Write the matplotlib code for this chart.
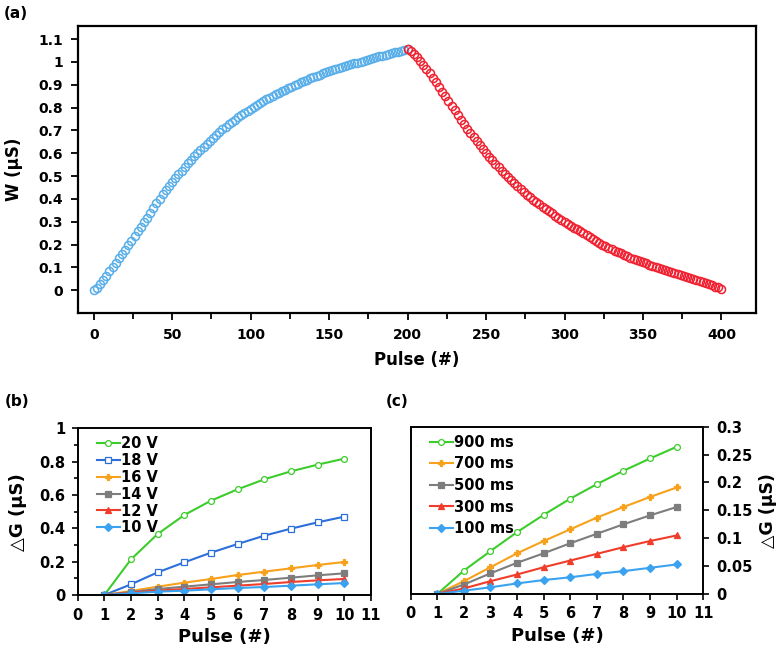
import numpy as np
import matplotlib
matplotlib.use("Agg")
import matplotlib.pyplot as plt
from matplotlib.ticker import MultipleLocator, FuncFormatter

plt.rcParams['font.family'] = ['DejaVu Sans']
plt.rcParams['font.weight'] = 'bold'

# ---------------- data (a) ----------------
pot_pulse = list(range(0, 201, 2))
pot_w = [0.000, 0.010, 0.026, 0.044, 0.063, 0.082, 0.101, 0.120, 0.139, 0.158,
         0.177, 0.197, 0.217, 0.237, 0.257, 0.277, 0.297, 0.318, 0.339, 0.360,
         0.381, 0.401, 0.420, 0.438, 0.456, 0.474, 0.491, 0.508, 0.524, 0.540,
         0.556, 0.571, 0.586, 0.601, 0.615, 0.629, 0.642, 0.655, 0.668, 0.680,
         0.692, 0.704, 0.715, 0.726, 0.737, 0.747, 0.757, 0.767, 0.777, 0.786,
         0.795, 0.804, 0.812, 0.820, 0.828, 0.836, 0.843, 0.851, 0.858, 0.865,
         0.872, 0.878, 0.885, 0.891, 0.897, 0.904, 0.910, 0.916, 0.922, 0.928,
         0.933, 0.939, 0.944, 0.949, 0.954, 0.959, 0.963, 0.968, 0.972, 0.977,
         0.981, 0.985, 0.989, 0.993, 0.997, 1.001, 1.005, 1.009, 1.013, 1.016,
         1.020, 1.024, 1.027, 1.031, 1.034, 1.038, 1.041, 1.045, 1.048, 1.052,
         1.058]
dep_pulse = list(range(200, 401, 2))
dep_w = [1.058, 1.048, 1.035, 1.020, 1.004, 0.987, 0.969, 0.950, 0.930, 0.910,
         0.890, 0.869, 0.849, 0.828, 0.808, 0.787, 0.767, 0.747, 0.727, 0.707,
         0.688, 0.670, 0.652, 0.634, 0.617, 0.600, 0.584, 0.568, 0.553, 0.538,
         0.523, 0.509, 0.495, 0.481, 0.468, 0.455, 0.443, 0.431, 0.419, 0.408,
         0.397, 0.386, 0.376, 0.366, 0.356, 0.346, 0.336, 0.326, 0.317, 0.307,
         0.298, 0.290, 0.282, 0.274, 0.266, 0.258, 0.250, 0.241, 0.232, 0.224,
         0.216, 0.208, 0.200, 0.193, 0.186, 0.179, 0.173, 0.167, 0.161, 0.155,
         0.149, 0.143, 0.138, 0.132, 0.127, 0.122, 0.117, 0.112, 0.107, 0.102,
         0.097, 0.093, 0.088, 0.084, 0.079, 0.075, 0.070, 0.066, 0.061, 0.057,
         0.052, 0.048, 0.043, 0.039, 0.034, 0.030, 0.025, 0.021, 0.016, 0.012,
         0.005]

# ---------------- data (b) ----------------
pulses = [1, 2, 3, 4, 5, 6, 7, 8, 9, 10]
v_labels = ['20 V', '18 V', '16 V', '14 V', '12 V', '10 V']
dg_20v = [0, 0.214, 0.366, 0.480, 0.566, 0.634, 0.694, 0.742, 0.782, 0.818]
dg_18v = [0, 0.064, 0.136, 0.196, 0.254, 0.306, 0.356, 0.398, 0.436, 0.470]
dg_16v = [0, 0.024, 0.050, 0.074, 0.096, 0.120, 0.140, 0.160, 0.180, 0.198]
dg_14v = [0, 0.018, 0.036, 0.050, 0.064, 0.078, 0.090, 0.104, 0.118, 0.130]
dg_12v = [0, 0.014, 0.026, 0.036, 0.046, 0.056, 0.066, 0.078, 0.088, 0.096]
dg_10v = [0, 0.010, 0.020, 0.026, 0.034, 0.042, 0.048, 0.056, 0.064, 0.072]

# ---------------- data (c) ----------------
t_labels = ['900 ms', '700 ms', '500 ms', '300 ms', '100 ms']
dg_900 = [0, 0.042, 0.077, 0.111, 0.142, 0.171, 0.197, 0.221, 0.243, 0.264]
dg_700 = [0, 0.023, 0.048, 0.073, 0.095, 0.116, 0.137, 0.156, 0.174, 0.191]
dg_500 = [0, 0.017, 0.037, 0.056, 0.073, 0.091, 0.108, 0.125, 0.141, 0.156]
dg_300 = [0, 0.010, 0.023, 0.035, 0.048, 0.060, 0.072, 0.084, 0.095, 0.105]
dg_100 = [0, 0.006, 0.012, 0.019, 0.025, 0.030, 0.036, 0.041, 0.047, 0.053]

GREEN = '#3ccc2c'
BLUE = '#2c6fdb'
ORANGE = '#f7a11c'
GRAY = '#7d7d7d'
RED = '#f03c2a'
LBLUE = '#3aa2ef'

fig = plt.figure(figsize=(7.82, 6.54), dpi=100)
W, H = 782.0, 654.0

def rect(l, t, r, b):
    return [l / W, 1 - b / H, (r - l) / W, (b - t) / H]

fmt = FuncFormatter(lambda v, p: ('%g' % round(v, 3)))

# ---------------- panel (a) ----------------
ax = fig.add_axes(rect(78, 26, 756, 313))
ax.plot(pot_pulse, pot_w, linestyle='none', marker='o', markersize=5.8,
        markerfacecolor='none', markeredgecolor='#58aee8', markeredgewidth=1.1)
ax.plot(dep_pulse, dep_w, linestyle='none', marker='o', markersize=5.8,
        markerfacecolor='none', markeredgecolor='#f02030', markeredgewidth=1.1)
ax.set_xlim(-10, 422)
ax.set_ylim(-0.1, 1.157)
ax.xaxis.set_major_locator(MultipleLocator(50))
ax.xaxis.set_minor_locator(MultipleLocator(25))
ax.set_yticks(np.arange(0, 1.11, 0.1))
ax.yaxis.set_major_formatter(fmt)
ax.tick_params(axis='both', which='both', direction='out', width=1.3,
               labelsize=10, top=False, right=False)
ax.tick_params(axis='both', which='major', length=5, pad=6)
ax.tick_params(axis='x', which='minor', length=4)
for s in ax.spines.values():
    s.set_linewidth(1.6)
ax.set_xlabel('Pulse (#)', fontsize=12, fontweight='bold', labelpad=6)
ax.set_ylabel('W (µS)', fontsize=12, fontweight='bold', labelpad=11)
for lab in ax.get_xticklabels() + ax.get_yticklabels():
    lab.set_fontweight('bold')
fig.text(4 / W, 1 - 14 / H, '(a)', fontsize=11, fontweight='bold', va='center')

# ---------------- panel (b) ----------------
axb = fig.add_axes(rect(77.7, 428.3, 371, 595))
b_series = [dg_20v, dg_18v, dg_16v, dg_14v, dg_12v, dg_10v]
b_colors = [GREEN, BLUE, ORANGE, GRAY, RED, LBLUE]
b_markers = ['o', 's', 'P', 's', '^', 'D']
b_fill = ['white', 'white', None, None, None, None]
b_ms = [4.2, 4.2, 4.2, 4.0, 4.2, 3.6]
for ys, lab, c, m, f, ms in zip(b_series, v_labels, b_colors, b_markers, b_fill, b_ms):
    axb.plot(pulses, ys, color=c, linewidth=1.5, marker=m, markersize=ms,
             markerfacecolor=(f if f else c), markeredgecolor=c,
             markeredgewidth=0.9, label=lab)
axb.set_xlim(0, 11)
axb.set_ylim(0, 1)
axb.xaxis.set_major_locator(MultipleLocator(1))
axb.yaxis.set_major_locator(MultipleLocator(0.2))
axb.yaxis.set_minor_locator(MultipleLocator(0.1))
axb.yaxis.set_major_formatter(fmt)
axb.tick_params(axis='both', which='both', direction='out', width=1.2,
                labelsize=10.5, top=False, right=False)
axb.tick_params(axis='both', which='major', length=4, pad=5)
axb.tick_params(axis='y', which='minor', length=3)
for s in axb.spines.values():
    s.set_linewidth(1.4)
for lab in axb.get_xticklabels() + axb.get_yticklabels():
    lab.set_fontweight('bold')
axb.set_xlabel('Pulse (#)', fontsize=13, fontweight='bold', labelpad=4)
axb.set_ylabel('△G (µS)', fontsize=13, fontweight='bold', labelpad=9)
axb.legend(loc='upper left', bbox_to_anchor=(0.03, 1.015), frameon=False,
           prop={'weight': 'bold', 'size': 10.5}, handlelength=1.6,
           handletextpad=0.05, labelspacing=0.13, borderaxespad=0.3)
fig.text(5 / W, 1 - 401 / H, '(b)', fontsize=11, fontweight='bold', va='center')

# ---------------- panel (c) ----------------
axc = fig.add_axes(rect(410.7, 426.7, 703.3, 594))
c_series = [dg_900, dg_700, dg_500, dg_300, dg_100]
c_colors = [GREEN, ORANGE, GRAY, RED, LBLUE]
c_markers = ['o', 'P', 's', '^', 'D']
c_fill = ['white', None, None, None, None]
c_ms = [4.2, 4.2, 4.0, 4.2, 3.6]
for ys, lab, c, m, f, ms in zip(c_series, t_labels, c_colors, c_markers, c_fill, c_ms):
    axc.plot(pulses, ys, color=c, linewidth=1.5, marker=m, markersize=ms,
             markerfacecolor=(f if f else c), markeredgecolor=c,
             markeredgewidth=0.9, label=lab)
axc.set_xlim(0, 11)
axc.set_ylim(0, 0.3)
axc.xaxis.set_major_locator(MultipleLocator(1))
axc.yaxis.set_major_locator(MultipleLocator(0.05))
axc.yaxis.set_major_formatter(fmt)
axc.yaxis.tick_right()
axc.yaxis.set_label_position('right')
axc.tick_params(axis='both', which='both', direction='out', width=1.2,
                labelsize=10.5, top=False, left=False)
axc.tick_params(axis='both', which='major', length=4, pad=5)
for s in axc.spines.values():
    s.set_linewidth(1.4)
for lab in axc.get_xticklabels() + axc.get_yticklabels():
    lab.set_fontweight('bold')
axc.set_xlabel('Pulse (#)', fontsize=13, fontweight='bold', labelpad=4)
axc.set_ylabel('△G (µS)', fontsize=12.5, fontweight='bold', labelpad=5,
               rotation=90)
axc.legend(loc='upper left', bbox_to_anchor=(0.03, 1.012), frameon=False,
           prop={'weight': 'bold', 'size': 10.5}, handlelength=1.6,
           handletextpad=0.05, labelspacing=0.45, borderaxespad=0.3)
fig.text(386 / W, 1 - 401 / H, '(c)', fontsize=11, fontweight='bold', va='center')

fig.savefig('out.png', dpi=100)
